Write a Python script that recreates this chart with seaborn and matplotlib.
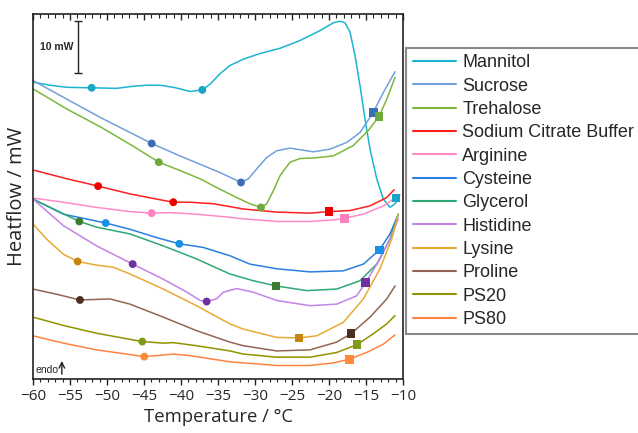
import numpy as np
import pandas as pd
import matplotlib
matplotlib.use("Agg")
import matplotlib.pyplot as plt
from matplotlib.ticker import MultipleLocator
from matplotlib.transforms import blended_transform_factory
import seaborn as sns

# DSC thermograms, heat flow in mW (arbitrary offset), temperature in degC
mannitol_t = [-60, -57.7, -55.45, -52.07, -48.69, -46.45, -44.64, -42.84, -41.04, -40.14, -38.78,
              -37.12, -36.08, -34.73, -33.38, -31.58, -29.32, -26.62, -23.92, -21.22, -19.42,
              -18.51, -17.84, -17.16, -16.49, -15.81, -15.14, -14.46, -13.55, -12.66, -11.76,
              -11.08, -10.64]
mannitol_hf = [57.1, 56.5, 56.1, 56.0, 55.9, 56.3, 56.5, 56.5, 56.1, 55.8, 55.3,
               55.6, 56.7, 58.7, 60.3, 61.5, 62.6, 63.6, 65.1, 67.0, 68.5,
               68.8, 68.5, 66.7, 62.2, 56.4, 50.0, 44.2, 38.5, 34.6, 33.0,
               33.7, 34.8]

sucrose_t = [-60, -55.4, -50.9, -43.96, -40.14, -37.43, -34.73, -32.93, -31.89, -30.9, -29.77,
             -28.42, -27.07, -25.27, -22.12, -19.86, -17.61, -15.81, -14.01, -12.66, -11.08]
sucrose_hf = [57.4, 53.8, 50.3, 45.3, 42.9, 41.3, 39.7, 38.5, 37.8, 38.5, 40.4,
              42.6, 43.9, 44.4, 43.7, 44.2, 45.5, 47.4, 51.3, 55.1, 59.1]

trehalose_t = [-60, -55.4, -50.9, -46.5, -43.0, -40.14, -37.43, -34.73, -32.47, -30.68, -29.19,
               -28.42, -27.52, -26.62, -25.27, -23.92, -22.12, -19.42, -16.72, -14.69, -13.24,
               -12.2, -11.08]
trehalose_hf = [55.8, 51.9, 48.5, 44.8, 41.7, 40.1, 38.5, 36.5, 34.9, 33.7, 33.0,
                33.7, 36.2, 39.1, 41.7, 42.4, 42.5, 42.9, 44.9, 47.8, 50.5,
                53.8, 58.0]

citrate_t = [-60, -55.4, -51.2, -46.9, -43.3, -41.04, -38.8, -35.6, -31.6, -27.07, -22.57, -20.0,
             -17.16, -14.46, -12.2, -11.2]
citrate_hf = [40.2, 38.5, 37.1, 35.6, 34.6, 34.0, 34.0, 33.7, 32.7, 32.1, 31.9, 32.2,
              32.4, 33.3, 34.9, 36.4]

arginine_t = [-60, -55.9, -51.4, -46.9, -43.96, -41.5, -37.9, -33.4, -31.6, -27.07, -22.57, -19.42,
              -17.93, -15.36, -12.66, -10.4]
arginine_hf = [34.8, 34.0, 33.0, 32.2, 31.9, 32.0, 31.7, 31.1, 30.8, 30.3, 30.3, 30.6,
               30.9, 31.7, 33.3, 35.4]

cysteine_t = [-60, -55.9, -50.18, -46.9, -43.3, -40.23, -36.99, -33.38, -30.7, -27.07, -22.57,
              -18.07, -15.36, -13.2, -11.76, -10.64]
cysteine_hf = [34.6, 31.7, 30.0, 28.8, 27.2, 26.0, 25.3, 23.7, 22.1, 21.2, 20.6,
               20.8, 22.1, 24.8, 27.9, 31.7]

glycerol_t = [-60, -53.74, -51.4, -46.9, -42.4, -37.9, -33.4, -30.23, -27.16, -23.0, -18.96,
              -15.81, -13.55, -11.76, -10.64]
glycerol_hf = [34.6, 30.3, 29.2, 27.9, 25.6, 23.1, 20.2, 18.9, 17.9, 17.0, 17.3,
               18.9, 22.1, 26.9, 31.7]

histidine_t = [-60, -55.9, -51.4, -46.53, -42.4, -39.2, -37.4, -36.53, -35.2, -34.28, -32.47,
               -30.23, -27.07, -22.57, -18.96, -16.26, -15.04, -13.11, -11.53, -10.64]
histidine_hf = [34.6, 29.5, 25.6, 22.1, 19.2, 16.7, 15.1, 14.9, 15.4, 16.7, 17.4,
                16.7, 15.1, 14.1, 14.4, 16.0, 18.6, 23.1, 27.6, 30.8]

lysine_t = [-60, -58.15, -55.9, -53.96, -51.4, -49.15, -46.9, -42.4, -37.9, -33.4, -31.58,
            -27.07, -24.05, -21.66, -18.07, -15.36, -13.11, -11.53, -10.64]
lysine_hf = [29.8, 26.9, 24.0, 22.6, 21.9, 21.5, 20.2, 17.3, 14.1, 10.6, 9.6,
             8.0, 7.9, 8.3, 10.9, 15.4, 21.2, 26.9, 31.7]

proline_t = [-60, -56.8, -53.65, -49.6, -46.9, -42.4, -37.9, -33.4, -31.58, -27.07, -22.57,
             -18.96, -17.03, -14.46, -12.2, -11.08]
proline_hf = [17.3, 16.3, 15.2, 15.4, 14.4, 11.9, 9.3, 7.1, 6.4, 5.4, 5.6,
              7.1, 8.7, 11.9, 15.4, 17.9]

ps20_t = [-60, -55.9, -51.4, -45.23, -42.4, -41.04, -37.9, -33.4, -31.58, -27.07, -22.57,
          -18.96, -16.22, -14.01, -12.2, -11.08]
ps20_hf = [11.9, 10.3, 8.8, 7.2, 6.9, 7.0, 6.4, 5.4, 4.8, 4.2, 4.2,
           5.1, 6.6, 8.7, 10.6, 12.2]

ps80_t = [-60, -55.9, -51.4, -46.9, -44.96, -43.3, -41.04, -38.8, -35.6, -33.4, -31.58,
          -27.07, -22.57, -19.42, -17.26, -14.91, -12.66, -11.08]
ps80_hf = [8.3, 6.9, 5.6, 4.7, 4.3, 4.5, 4.8, 4.5, 3.8, 3.3, 3.1,
           2.6, 2.6, 3.1, 3.8, 5.1, 6.7, 8.5]

# transition markers: circles and squares
circle_names = ["Mannitol", "Mannitol", "Sucrose", "Sucrose", "Trehalose", "Trehalose",
                "Sodium Citrate Buffer", "Sodium Citrate Buffer", "Arginine", "Cysteine", "Cysteine",
                "Glycerol", "Histidine", "Histidine", "Lysine", "Proline", "PS20", "PS80"]
circle_t = [-52.07, -37.12, -43.96, -31.89, -43.0, -29.19, -51.2, -41.04, -43.96, -50.18, -40.23,
            -53.74, -46.53, -36.53, -53.96, -53.65, -45.23, -44.96]
circle_hf = [56.0, 55.6, 45.3, 37.8, 41.7, 33.0, 37.1, 34.0, 31.9, 30.0, 26.0,
             30.3, 22.1, 14.9, 22.6, 15.2, 7.2, 4.3]

square_names = ["Mannitol", "Sucrose", "Trehalose", "Sodium Citrate Buffer", "Arginine", "Cysteine",
                "Glycerol", "Histidine", "Lysine", "Proline", "PS20", "PS80"]
square_t = [-10.95, -14.01, -13.24, -20.0, -17.93, -13.2, -27.16, -15.04, -24.05, -17.03, -16.22, -17.26]
square_hf = [34.8, 51.3, 50.5, 32.2, 30.9, 24.8, 17.9, 18.6, 7.9, 8.7, 6.6, 3.8]

names = ["Mannitol", "Sucrose", "Trehalose", "Sodium Citrate Buffer", "Arginine", "Cysteine",
         "Glycerol", "Histidine", "Lysine", "Proline", "PS20", "PS80"]
series_t = [mannitol_t, sucrose_t, trehalose_t, citrate_t, arginine_t, cysteine_t,
            glycerol_t, histidine_t, lysine_t, proline_t, ps20_t, ps80_t]
series_hf = [mannitol_hf, sucrose_hf, trehalose_hf, citrate_hf, arginine_hf, cysteine_hf,
             glycerol_hf, histidine_hf, lysine_hf, proline_hf, ps20_hf, ps80_hf]

line_colors = ["#1cb4d0", "#72a0da", "#7cb83c", "#ff1f1f", "#ff8ac8", "#2a7ee0",
               "#2ea874", "#c383e8", "#e8aa34", "#946454", "#929200", "#ff8444"]
marker_colors = ["#18a6c6", "#3a6fb6", "#6fa83e", "#ee0000", "#ff80c0", "#1890e6",
                 "#3c7a30", "#7030a0", "#c4860c", "#4e2e22", "#7f9c18", "#ff8a3c"]

rows = []
for name, ts, hs in zip(names, series_t, series_hf):
    for t, h in zip(ts, hs):
        rows.append((name, t, h))
df = pd.DataFrame(rows, columns=["sample", "temperature", "heatflow"])
circles = pd.DataFrame({"sample": circle_names, "temperature": circle_t, "heatflow": circle_hf})
squares = pd.DataFrame({"sample": square_names, "temperature": square_t, "heatflow": square_hf})

sns.set_style("ticks")
plt.rcParams["font.family"] = ["Open Sans", "DejaVu Sans"]

fig = plt.figure(figsize=(6.38, 4.33), dpi=100)
ax = fig.add_axes([0.0517, 0.1247, 0.58, 0.843])

line_pal = dict(zip(names, line_colors))
mark_pal = dict(zip(names, marker_colors))
sns.lineplot(data=df, x="temperature", y="heatflow", hue="sample", hue_order=names,
             palette=line_pal, linewidth=1.1, sort=False, estimator=None, ax=ax)
sns.scatterplot(data=circles, x="temperature", y="heatflow", hue="sample", palette=mark_pal,
                marker="o", s=32, linewidth=0, legend=False, zorder=5, ax=ax)
sns.scatterplot(data=squares, x="temperature", y="heatflow", hue="sample", palette=mark_pal,
                marker="s", s=40, linewidth=0, legend=False, zorder=5, ax=ax)

ax.set_xlim(-60, -10)
ax.set_ylim(0, 70.2)
ax.set_yticks([])
major_loc = MultipleLocator(5)
minor_loc = MultipleLocator(1)
ax.xaxis.set_major_locator(major_loc)
ax.xaxis.set_minor_locator(minor_loc)
ax.tick_params(axis="x", which="major", direction="out", length=4, width=1, labelsize=11, pad=3,
               color="#222222")
ax.tick_params(axis="x", which="minor", direction="out", length=2.5, width=0.8, color="#222222")
for side in ax.spines.values():
    side.set_linewidth(1.2)
    side.set_color("#222222")
ax.set_xlabel("Temperature / °C", fontsize=13.3, labelpad=3)
ax.set_ylabel("Heatflow / mW", fontsize=14.5, labelpad=4)

# inward tick comb along the top spine
trans = blended_transform_factory(ax.transData, ax.transAxes)
top_major = [v for v in major_loc.tick_values(-60, -10) if -60 <= v <= -10]
top_minor = [v for v in minor_loc.tick_values(-60, -10) if -60 <= v <= -10 and v not in top_major]
ax.vlines(top_major, 0.984, 1.0, transform=trans, color="#222222", linewidth=1, clip_on=False)
ax.vlines(top_minor, 0.989, 1.0, transform=trans, color="#222222", linewidth=0.8, clip_on=False)

# scale bar and endo arrow
ax.errorbar([-53.9], [63.8], yerr=[[5.0], [5.0]], color="#222222", linewidth=1,
            capsize=3, capthick=1)
ax.text(-54.6, 63.8, "10 mW", fontsize=7.5, fontweight="bold", ha="right", va="center",
        family=["Liberation Sans", "DejaVu Sans"])
ax.text(-59.7, 1.8, "endo", fontsize=7.5, ha="left", va="center",
        family=["Liberation Sans", "DejaVu Sans"])
ax.annotate("", xy=(-56.1, 4.0), xytext=(-56.1, 0.4),
            arrowprops=dict(arrowstyle="->", color="#222222", lw=1))

leg = ax.legend(loc="upper left", bbox_to_anchor=(0.637, 0.889), bbox_transform=fig.transFigure,
                borderaxespad=0, frameon=True, fancybox=False, framealpha=1,
                edgecolor="#888888", prop={"family": ["Liberation Sans", "DejaVu Sans"], "size": 13},
                handlelength=2.4, handletextpad=0.35, labelspacing=0.35, borderpad=0.35)
leg.get_frame().set_linewidth(1.5)
for h in leg.get_lines():
    h.set_linewidth(1.5)

fig.savefig("out.png", dpi=100)
